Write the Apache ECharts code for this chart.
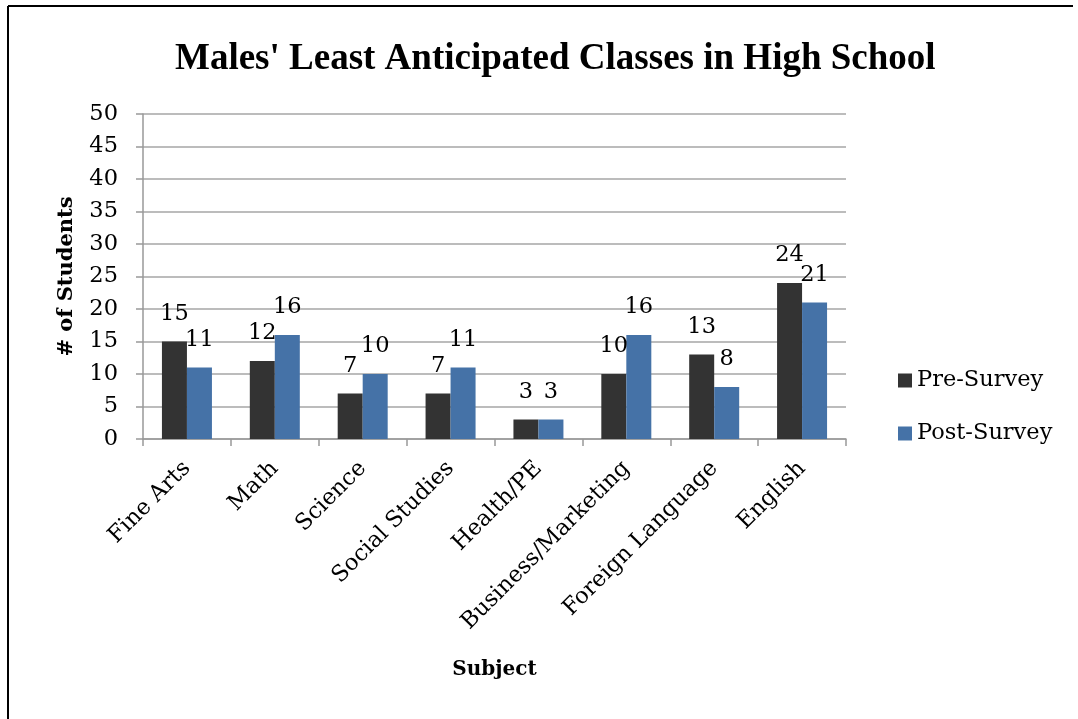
<!DOCTYPE html>
<html>
<head>
<meta charset="utf-8">
<script src="https://cdn.jsdelivr.net/npm/echarts@6/dist/echarts.min.js"></script>
<style>html,body{margin:0;padding:0;background:#fff;}#c{width:1078px;height:719px;}</style>
</head>
<body>
<div id="c"></div>
<script>
const categories = ['Fine Arts','Math','Science','Social Studies','Health/PE','Business/Marketing','Foreign Language','English'];
const preSurvey = [15,12,7,7,3,10,13,24];
const postSurvey = [11,16,10,11,3,16,8,21];
const yTicks = {min:0, max:50, interval:5};

const chart = echarts.init(document.getElementById('c'));
const serif = 'DejaVu Serif';
const labelCfg = {show:true, position:'top', distance:16, color:'#000', fontFamily:serif, fontSize:22.5};
chart.setOption({
  animation:false,
  backgroundColor:'#fff',
  title:{text:"Males' Least Anticipated Classes in High School", left:170, top:36,
    textStyle:{fontFamily:'Liberation Serif', fontWeight:'bold', fontSize:37, color:'#000'}},
  graphic:[
    {type:'line', shape:{x1:8,y1:6,x2:1073,y2:6}, style:{stroke:'#000', lineWidth:2}},
    {type:'line', shape:{x1:8,y1:6,x2:8,y2:719}, style:{stroke:'#000', lineWidth:2}}
  ],
  legend:{orient:'vertical', left:893, top:364, itemWidth:14, itemHeight:14, itemGap:30, icon:'rect',
    textStyle:{fontFamily:serif, fontSize:22.5, color:'#000'}},
  grid:{left:143, right:232, top:114, bottom:280, containLabel:false},
  xAxis:{type:'category', data:categories,
    name:'Subject', nameLocation:'middle', nameGap:221,
    nameTextStyle:{fontFamily:serif, fontWeight:'bold', fontSize:20, color:'#000'},
    axisLine:{lineStyle:{color:'#999', width:1.5}},
    axisTick:{show:true, length:7, lineStyle:{color:'#999', width:1.5}},
    axisLabel:{rotate:45, margin:26, interval:0, fontFamily:serif, fontSize:22.5, color:'#000'}},
  yAxis:{type:'value', min:yTicks.min, max:yTicks.max, interval:yTicks.interval,
    name:'# of Students', nameLocation:'middle', nameGap:66,
    nameTextStyle:{fontFamily:serif, fontWeight:'bold', fontSize:21, color:'#000'},
    axisLine:{show:true, lineStyle:{color:'#999', width:1.5}},
    axisTick:{show:true, length:7, lineStyle:{color:'#999', width:1.5}},
    splitLine:{lineStyle:{color:'#a6a6a6', width:1.5}},
    axisLabel:{margin:25, fontFamily:serif, fontSize:22.5, color:'#000'}},
  series:[
    {name:'Pre-Survey', type:'bar', data:preSurvey, barWidth:25, barGap:'0%', barCategoryGap:'43%',
      itemStyle:{color:'#333333'}, label:labelCfg},
    {name:'Post-Survey', type:'bar', data:postSurvey, barWidth:25,
      itemStyle:{color:'#4572A7'}, label:labelCfg}
  ]
});
</script>
</body>
</html>
